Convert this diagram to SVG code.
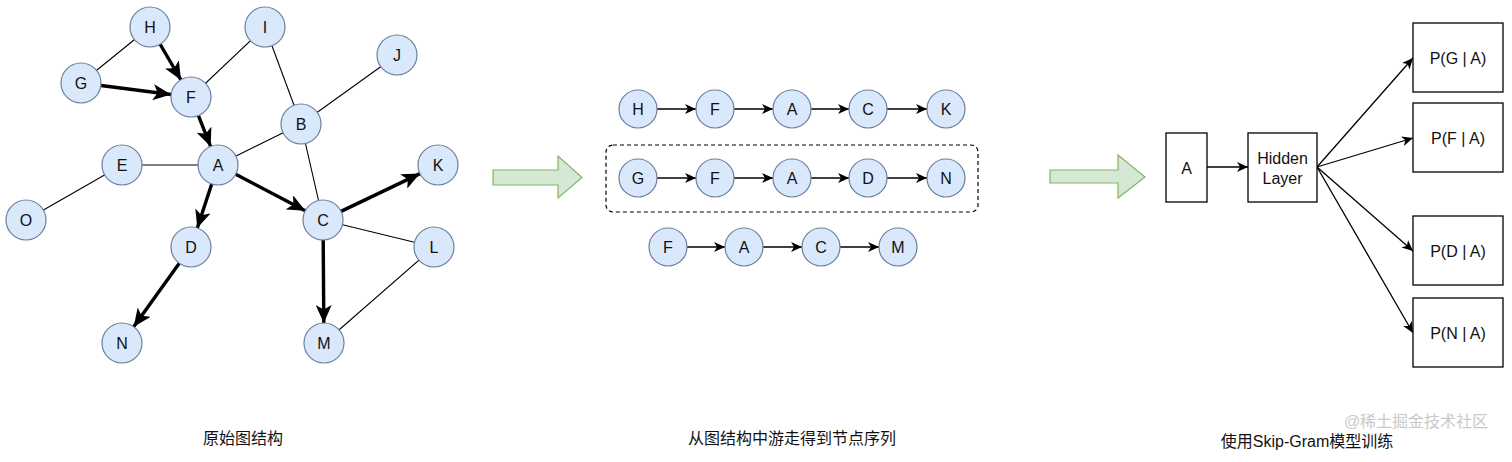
<svg xmlns="http://www.w3.org/2000/svg" width="1512" height="462" viewBox="0 0 1512 462">
<style>
.nd{fill:#dae8fc;stroke:#6c7f9c;stroke-width:1.2}
.lb{font-family:"Liberation Sans",Arial,sans-serif;font-size:16px;fill:#111;text-anchor:middle;dominant-baseline:central}
.thin{stroke:#000;stroke-width:1.1;fill:none}
.thick{stroke:#000;stroke-width:3.4;fill:none;marker-end:url(#big)}
.seq{stroke:#000;stroke-width:1.3;fill:none;marker-end:url(#sm)}
.box{fill:#fff;stroke:#000;stroke-width:1.3}
.cap{font-family:"Liberation Sans","Noto Sans CJK SC",sans-serif;font-size:16px;fill:#111;text-anchor:middle}
.big{fill:#d5e8d4;stroke:#82b366;stroke-width:1.2}
</style>
<defs>
<marker id="big" markerUnits="userSpaceOnUse" markerWidth="19" markerHeight="16" refX="18" refY="8" orient="auto">
<path d="M0,0 L18,8 L0,16 L4.5,8 Z" fill="#000"/>
</marker>
<marker id="sm" markerUnits="userSpaceOnUse" markerWidth="12" markerHeight="10" refX="11" refY="5" orient="auto">
<path d="M0,0 L11,5 L0,10 L3,5 Z" fill="#000"/>
</marker>
</defs>
<rect width="1512" height="462" fill="#fff"/>

<g id="connectors">
<line class="thin" x1="150" y1="27" x2="81" y2="83"/>
<line class="thin" x1="191" y1="97" x2="265" y2="27"/>
<line class="thin" x1="265" y1="27" x2="301" y2="124"/>
<line class="thin" x1="301" y1="124" x2="323" y2="220"/>
<line class="thin" x1="301" y1="124" x2="397" y2="55"/>
<line class="thin" x1="218" y1="165" x2="301" y2="124"/>
<line class="thin" x1="122" y1="165" x2="218" y2="165"/>
<line class="thin" x1="122" y1="165" x2="26" y2="220"/>
<line class="thin" x1="323" y1="220" x2="434" y2="247"/>
<line class="thin" x1="434" y1="247" x2="324" y2="343"/>
<line class="thick" x1="160" y1="44" x2="181" y2="80"/>
<line class="thick" x1="101" y1="85.5" x2="171" y2="94.5"/>
<line class="thick" x1="198.4" y1="115.6" x2="210.6" y2="146.4"/>
<line class="thick" x1="235.7" y1="174.3" x2="305.3" y2="210.7"/>
<line class="thick" x1="211.7" y1="184" x2="197.3" y2="228"/>
<line class="thick" x1="179.3" y1="263.2" x2="133.7" y2="326.8"/>
<line class="thick" x1="341" y1="211.4" x2="420" y2="173.6"/>
<line class="thick" x1="323.2" y1="240" x2="323.8" y2="323"/>
<line class="seq" x1="657" y1="109" x2="696" y2="109"/>
<line class="seq" x1="734" y1="109" x2="773" y2="109"/>
<line class="seq" x1="811" y1="109" x2="849" y2="109"/>
<line class="seq" x1="887" y1="109" x2="927" y2="109"/>
<line class="seq" x1="657" y1="178" x2="696" y2="178"/>
<line class="seq" x1="734" y1="178" x2="773" y2="178"/>
<line class="seq" x1="811" y1="178" x2="849" y2="178"/>
<line class="seq" x1="887" y1="178" x2="927" y2="178"/>
<line class="seq" x1="687" y1="247" x2="725" y2="247"/>
<line class="seq" x1="763" y1="247" x2="802" y2="247"/>
<line class="seq" x1="840" y1="247" x2="879" y2="247"/>
<line class="seq" x1="1207" y1="167" x2="1248" y2="167"/>
<line class="seq" x1="1317" y1="167" x2="1413" y2="58"/>
<line class="seq" x1="1317" y1="167" x2="1413" y2="138"/>
<line class="seq" x1="1317" y1="167" x2="1413" y2="251"/>
<line class="seq" x1="1317" y1="167" x2="1413" y2="333"/>
</g>

<g id="graph-nodes">
<g id="g-H"><circle class="nd" cx="150" cy="27" r="20"/><text class="lb" x="150" y="27">H</text></g>
<g id="g-I"><circle class="nd" cx="265" cy="27" r="20"/><text class="lb" x="265" y="27">I</text></g>
<g id="g-J"><circle class="nd" cx="397" cy="55" r="20"/><text class="lb" x="397" y="55">J</text></g>
<g id="g-G"><circle class="nd" cx="81" cy="83" r="20"/><text class="lb" x="81" y="83">G</text></g>
<g id="g-F"><circle class="nd" cx="191" cy="97" r="20"/><text class="lb" x="191" y="97">F</text></g>
<g id="g-B"><circle class="nd" cx="301" cy="124" r="20"/><text class="lb" x="301" y="124">B</text></g>
<g id="g-E"><circle class="nd" cx="122" cy="165" r="20"/><text class="lb" x="122" y="165">E</text></g>
<g id="g-A"><circle class="nd" cx="218" cy="165" r="20"/><text class="lb" x="218" y="165">A</text></g>
<g id="g-K"><circle class="nd" cx="438" cy="165" r="20"/><text class="lb" x="438" y="165">K</text></g>
<g id="g-O"><circle class="nd" cx="26" cy="220" r="20"/><text class="lb" x="26" y="220">O</text></g>
<g id="g-C"><circle class="nd" cx="323" cy="220" r="20"/><text class="lb" x="323" y="220">C</text></g>
<g id="g-D"><circle class="nd" cx="191" cy="247" r="20"/><text class="lb" x="191" y="247">D</text></g>
<g id="g-L"><circle class="nd" cx="434" cy="247" r="20"/><text class="lb" x="434" y="247">L</text></g>
<g id="g-N"><circle class="nd" cx="122" cy="343" r="20"/><text class="lb" x="122" y="343">N</text></g>
<g id="g-M"><circle class="nd" cx="324" cy="343" r="20"/><text class="lb" x="324" y="343">M</text></g>
</g>

<g id="arrow1"><path class="big" d="M493,170 L558,170 L558,156 L582,177.5 L558,198 L558,185 L493,185 Z"/></g>
<g id="arrow2"><path class="big" d="M1050,170 L1118,170 L1118,155 L1145,177 L1118,198 L1118,183 L1050,183 Z"/></g>

<g id="walk-box"><rect x="606" y="145" width="372" height="67" rx="7" fill="none" stroke="#000" stroke-width="1.2" stroke-dasharray="4 3"/></g>

<g id="seq-nodes">
<g id="s1-H"><circle class="nd" cx="638" cy="109" r="19"/><text class="lb" x="638" y="109">H</text></g>
<g id="s1-F"><circle class="nd" cx="715" cy="109" r="19"/><text class="lb" x="715" y="109">F</text></g>
<g id="s1-A"><circle class="nd" cx="792" cy="109" r="19"/><text class="lb" x="792" y="109">A</text></g>
<g id="s1-C"><circle class="nd" cx="868" cy="109" r="19"/><text class="lb" x="868" y="109">C</text></g>
<g id="s1-K"><circle class="nd" cx="946" cy="109" r="19"/><text class="lb" x="946" y="109">K</text></g>
<g id="s2-G"><circle class="nd" cx="638" cy="178" r="19"/><text class="lb" x="638" y="178">G</text></g>
<g id="s2-F"><circle class="nd" cx="715" cy="178" r="19"/><text class="lb" x="715" y="178">F</text></g>
<g id="s2-A"><circle class="nd" cx="792" cy="178" r="19"/><text class="lb" x="792" y="178">A</text></g>
<g id="s2-D"><circle class="nd" cx="868" cy="178" r="19"/><text class="lb" x="868" y="178">D</text></g>
<g id="s2-N"><circle class="nd" cx="946" cy="178" r="19"/><text class="lb" x="946" y="178">N</text></g>
<g id="s3-F"><circle class="nd" cx="668" cy="247" r="19"/><text class="lb" x="668" y="247">F</text></g>
<g id="s3-A"><circle class="nd" cx="744" cy="247" r="19"/><text class="lb" x="744" y="247">A</text></g>
<g id="s3-C"><circle class="nd" cx="821" cy="247" r="19"/><text class="lb" x="821" y="247">C</text></g>
<g id="s3-M"><circle class="nd" cx="898" cy="247" r="19"/><text class="lb" x="898" y="247">M</text></g>
</g>

<g id="sg-input"><rect class="box" x="1166" y="133" width="41" height="69"/><text class="lb" x="1186.5" y="168">A</text></g>
<g id="sg-hidden"><rect class="box" x="1248" y="133" width="69" height="69"/><text class="lb" x="1282.5" y="158">Hidden</text><text class="lb" x="1282.5" y="178">Layer</text></g>
<g id="sg-G"><rect class="box" x="1413" y="23" width="90" height="69"/><text class="lb" x="1458" y="58">P(G | A)</text></g>
<g id="sg-F"><rect class="box" x="1413" y="103" width="90" height="69"/><text class="lb" x="1458" y="138">P(F | A)</text></g>
<g id="sg-D"><rect class="box" x="1413" y="216" width="90" height="69"/><text class="lb" x="1458" y="251">P(D | A)</text></g>
<g id="sg-N"><rect class="box" x="1413" y="298" width="90" height="69"/><text class="lb" x="1458" y="333">P(N | A)</text></g>

<g id="captions">
<text class="cap" x="243" y="444">原始图结构</text>
<text class="cap" x="792" y="444">从图结构中游走得到节点序列</text>
<text x="1416" y="427" font-family="'Liberation Sans','Noto Sans CJK SC',sans-serif" font-size="16" fill="#c9c9c9" text-anchor="middle">@稀土掘金技术社区</text>
<text class="cap" x="1307" y="447">使用Skip-Gram模型训练</text>
</g>
</svg>
